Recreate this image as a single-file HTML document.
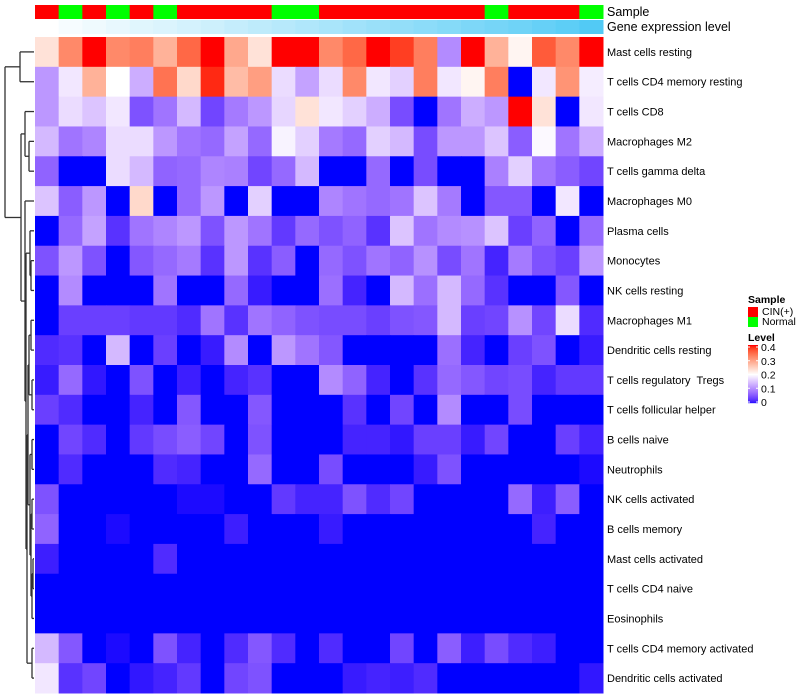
<!DOCTYPE html>
<html><head><meta charset="utf-8"><style>
body{margin:0;background:#fff;width:800px;height:700px;overflow:hidden;font-family:"Liberation Sans",sans-serif}
svg{display:block}
#rowlabels text{white-space:pre}
</style></head><body>
<svg id="chart" width="800" height="700" xmlns="http://www.w3.org/2000/svg">
<g id="dendro" stroke="#333" stroke-width="1.3" fill="none"></g>
<g id="cells"></g>
<g id="annot"></g>
<g id="rowlabels" font-size="11" fill="#000"></g>
<text x="607" y="16" font-size="12.5">Sample</text>
<text x="607" y="31" font-size="12.5">Gene expression level</text>
<g id="legend" font-size="10.5"></g>
</svg>
<script>
const rowNames=["Mast cells resting","T cells CD4 memory resting","T cells CD8","Macrophages M2","T cells gamma delta","Macrophages M0","Plasma cells","Monocytes","NK cells resting","Macrophages M1","Dendritic cells resting","T cells regulatory  Tregs","T cells follicular helper","B cells naive","Neutrophils","NK cells activated","B cells memory","Mast cells activated","T cells CD4 naive","Eosinophils","T cells CD4 memory activated","Dendritic cells activated"];
const sampleGroup=["C","N","C","N","C","N","C","C","C","C","N","N","C","C","C","C","C","C","C","N","C","C","C","N"];
const geneLevel=[0,0.05,0.09,0.13,0.17,0.2,0.24,0.28,0.32,0.36,0.4,0.44,0.48,0.52,0.56,0.6,0.64,0.68,0.72,0.76,0.8,0.85,0.9,0.96];
const r1=[0.23,0.32,0.4,0.32,0.33,0.28,0.35,0.4,0.29,0.23,0.4,0.4,0.32,0.35,0.4,0.38,0.33,0.1,0.4,0.28,0.21,0.36,0.32,0.4];
const r2=[0.11,0.18,0.28,0.2,0.13,0.34,0.24,0.39,0.27,0.3,0.17,0.12,0.17,0.32,0.18,0.16,0.33,0.18,0.21,0.33,0,0.18,0.31,0.185];
const r3=[0.11,0.17,0.15,0.18,0.05,0.08,0.14,0.04,0.085,0.11,0.165,0.23,0.18,0.16,0.13,0.045,0,0.08,0.13,0.11,0.4,0.23,0,0.18];
const r4=[0.14,0.08,0.095,0.17,0.17,0.11,0.08,0.07,0.12,0.07,0.19,0.16,0.085,0.07,0.16,0.14,0.045,0.11,0.11,0.15,0.06,0.195,0.08,0.13];
const r5=[0.065,0,0,0.17,0.14,0.065,0.07,0.095,0.09,0.04,0.07,0.14,0,0,0.07,0,0.045,0,0,0.09,0.16,0.08,0.06,0.04];
const r6=[0.15,0.06,0.11,0,0.24,0,0.07,0.11,0,0.16,0,0,0.095,0.08,0.07,0.08,0.15,0.085,0,0.055,0.055,0,0.18,0];
const r7=[0,0.07,0.12,0.025,0.08,0.095,0.11,0.05,0.11,0.08,0.03,0.07,0.05,0.065,0.025,0.15,0.08,0.1,0.105,0.15,0.035,0.065,0,0.07];
const r8=[0.05,0.11,0.05,0,0.055,0.07,0.085,0.025,0.11,0.025,0.06,0,0.07,0.05,0.08,0.065,0.105,0.045,0.08,0.015,0.085,0.05,0.035,0.11];
const r9=[0,0.1,0,0,0,0.08,0,0,0.07,0.01,0,0,0.075,0.015,0,0.14,0.075,0.14,0.07,0.025,0,0,0.055,0];
const r10=[0,0.035,0.035,0.035,0.03,0.03,0.02,0.08,0.025,0.08,0.065,0.05,0.045,0.045,0.035,0.05,0.055,0.14,0.035,0.04,0.105,0.04,0.17,0.02];
const r11=[0.02,0.025,0,0.14,0,0.035,0,0.01,0.1,0,0.11,0.08,0.055,0,0,0,0,0.075,0.015,0,0.035,0.05,0,0.01];
const r12=[0.01,0.07,0.008,0,0.05,0,0.012,0,0.015,0.025,0,0,0.1,0.065,0.015,0,0.025,0.07,0.055,0.04,0.045,0.015,0.03,0.03];
const r13=[0.035,0.02,0,0,0.015,0,0.055,0,0,0.055,0,0,0,0.025,0,0.04,0,0.1,0,0,0.045,0,0,0];
const r14=[0,0.04,0.02,0,0.03,0.045,0.06,0.04,0,0.05,0,0,0,0.015,0.015,0.008,0.035,0.035,0.01,0.04,0,0,0.035,0.015];
const r15=[0,0.02,0,0,0,0.02,0.015,0,0,0.07,0,0,0.045,0,0,0,0.01,0.05,0,0,0,0,0,0.003];
const r16=[0.05,0,0,0,0,0,0.003,0.003,0,0,0.03,0.015,0.015,0.05,0.02,0.04,0,0,0,0,0.07,0.012,0.06,0];
const r17=[0.065,0,0,0.003,0,0,0,0,0.012,0,0,0,0.01,0,0,0,0,0,0,0,0,0.015,0,0];
const r18=[0.012,0,0,0,0,0.02,0,0,0,0,0,0,0,0,0,0,0,0,0,0,0,0,0,0];
const r19=[0,0,0,0,0,0,0,0,0,0,0,0,0,0,0,0,0,0,0,0,0,0,0,0];
const r20=[0,0,0,0,0,0,0,0,0,0,0,0,0,0,0,0,0,0,0,0,0,0,0,0];
const r21=[0.14,0.055,0,0.003,0,0.05,0.015,0,0.02,0.055,0.02,0,0.02,0,0,0.04,0,0.06,0.012,0.045,0.02,0.012,0,0];
const r22=[0.18,0.025,0.04,0,0.008,0.015,0.03,0,0.04,0.05,0,0,0,0.01,0.015,0.012,0.02,0,0,0,0,0,0,0.008];
const values=[r1,r2,r3,r4,r5,r6,r7,r8,r9,r10,r11,r12,r13,r14,r15,r16,r17,r18,r19,r20,r21,r22];
const legendTicks=[0,0.1,0.2,0.3,0.4];

const NS="http://www.w3.org/2000/svg";
const X0=35,X1=603,Y0=37,Y1=693;
const nC=24,nR=22,cw=(X1-X0)/nC,rh=(Y1-Y0)/nR;
const xPos=c=>X0+c*cw, yPos=r=>Y0+r*rh;

function toLin(c){c/=255;return c<=0.04045?c/12.92:Math.pow((c+0.055)/1.055,2.4);}
function fromLin(c){c=c<=0.0031308?12.92*c:1.055*Math.pow(c,1/2.4)-0.055;return Math.max(0,Math.min(255,Math.round(c*255)));}
function rgb2lab(rgb){const[r,g,b]=rgb.map(toLin);
 let x=(0.4124*r+0.3576*g+0.1805*b)/0.95047,y=(0.2126*r+0.7152*g+0.0722*b),z=(0.0193*r+0.1192*g+0.9505*b)/1.08883;
 const f=t=>t>0.008856?Math.cbrt(t):7.787*t+16/116;const fx=f(x),fy=f(y),fz=f(z);
 return[116*fy-16,500*(fx-fy),200*(fy-fz)];}
function lab2rgb(l){const fy=(l[0]+16)/116,fx=fy+l[1]/500,fz=fy-l[2]/200;
 const g=t=>t*t*t>0.008856?t*t*t:(t-16/116)/7.787;
 const x=g(fx)*0.95047,y=g(fy),z=g(fz)*1.08883;
 const r=3.2406*x-1.5372*y-0.4986*z,gg=-0.9689*x+1.8758*y+0.0415*z,b=0.0557*x-0.2040*y+1.0570*z;
 return[fromLin(r),fromLin(gg),fromLin(b)];}
const LB=rgb2lab([0,0,255]),LW=rgb2lab([255,255,255]),LR=rgb2lab([255,0,0]);
function colorOf(v){v=Math.max(0,Math.min(0.4,v));let a,b,t;
 if(v<=0.2){a=LB;b=LW;t=v/0.2;}else{a=LW;b=LR;t=(v-0.2)/0.2;}
 const c=lab2rgb([0,1,2].map(i=>a[i]+(b[i]-a[i])*t));return`rgb(${c[0]},${c[1]},${c[2]})`;}

const cells=document.getElementById('cells');
values.forEach((row,r)=>row.forEach((v,c)=>{
 const el=document.createElementNS(NS,'rect');
 el.setAttribute('x',xPos(c));el.setAttribute('y',yPos(r));
 el.setAttribute('width',cw+0.5);el.setAttribute('height',rh+0.5);
 el.setAttribute('fill',colorOf(v));
 
 
 cells.appendChild(el);}));

const annot=document.getElementById('annot');
sampleGroup.forEach((g,c)=>{
 const el=document.createElementNS(NS,'rect');
 el.setAttribute('x',xPos(c));el.setAttribute('y',5);el.setAttribute('width',cw+0.5);el.setAttribute('height',14);
 el.setAttribute('fill',g==='C'?'#ff0000':'#00ff00');
 
 
 annot.appendChild(el);});
geneLevel.forEach((g,c)=>{
 const el=document.createElementNS(NS,'rect');
 const R=Math.round(255+(75-255)*g),G=Math.round(255+(200-255)*g),B=Math.round(255+(245-255)*g);
 el.setAttribute('x',xPos(c));el.setAttribute('y',20);el.setAttribute('width',cw+0.5);el.setAttribute('height',14);
 el.setAttribute('fill',`rgb(${R},${G},${B})`);
 
 
 annot.appendChild(el);});

const rl=document.getElementById('rowlabels');
rowNames.forEach((n,r)=>{
 const t=document.createElementNS(NS,'text');
 t.setAttribute('x',607);t.setAttribute('y',yPos(r)+rh/2+4);t.textContent=n;
 
 
 rl.appendChild(t);});

const cy=r=>yPos(r)+rh/2;
const dg=document.getElementById('dendro');
function seg(x1,y1,x2,y2){const l=document.createElementNS(NS,'line');
 l.setAttribute('x1',x1);l.setAttribute('y1',y1);l.setAttribute('x2',x2);l.setAttribute('y2',y2);
 
 
 dg.appendChild(l);}
function join(x,ya,xa,yb,xb){seg(x,ya,xa,ya);seg(x,yb,xb,yb);seg(x,ya,x,yb);return[x,(ya+yb)/2];}
const L=34;
const A=join(20,cy(0),L,cy(1),L);
const n34=join(29,cy(3),L,cy(4),L);
const n234=join(25,cy(2),L,n34[1],29);
const n78=join(31,cy(7),L,cy(8),L);
const n678=join(30,cy(6),L,n78[1],31);
const n910=join(31,cy(9),L,cy(10),L);
const n1112=join(32,cy(11),L,cy(12),L);
const nA=join(29,n910[1],31,n1112[1],32);
const n1314=join(32,cy(13),L,cy(14),L);
const n1516=join(32,cy(15),L,cy(16),L);
const n1718=join(33,cy(17),L,cy(18),L);
const n171819=join(32,n1718[1],33,cy(19),L);
const nB=join(31,n1516[1],32,n171819[1],32);
const nC2=join(30,n1314[1],32,nB[1],31);
const nD=join(28,nA[1],29,nC2[1],30);
const n2021=join(32,cy(20),L,cy(21),L);
const nE=join(27,nD[1],28,n2021[1],32);
const nF=join(26,n678[1],30,nE[1],27);
const nG=join(25,cy(5),L,nF[1],26);
const nH=join(21,n234[1],25,nG[1],25);
join(5,A[1],20,nH[1],21);

const lg=document.getElementById('legend');
function addText(x,y,s,bold,name){const t=document.createElementNS(NS,'text');t.setAttribute('x',x);t.setAttribute('y',y);
 if(bold)t.setAttribute('font-weight','bold');t.textContent=s;
 
 
 lg.appendChild(t);}
addText(748,303,'Sample',true,'sample-legend-title');
[['#ff0000','CIN(+)'],['#00ff00','Normal']].forEach((e,i)=>{
 const r=document.createElementNS(NS,'rect');r.setAttribute('x',748);r.setAttribute('y',307+i*10);r.setAttribute('width',10);r.setAttribute('height',10);r.setAttribute('fill',e[0]);
 
 
 lg.appendChild(r);
 addText(762,315+i*10,e[1],false,'sample-legend-entry');});
addText(748,341,'Level',true,'level-legend-title');
const gTop=345,gBot=403;
for(let i=0;i<58;i++){const v=0.4*(1-i/58);const r=document.createElementNS(NS,'rect');
 r.setAttribute('x',748);r.setAttribute('y',gTop+i);r.setAttribute('width',10);r.setAttribute('height',1.2);r.setAttribute('fill',colorOf(v));
 
 
 lg.appendChild(r);}
legendTicks.forEach(v=>{const y=gBot-(v/0.4)*(gBot-gTop-3)-1;
 const w1=document.createElementNS(NS,'line');w1.setAttribute('x1',748);w1.setAttribute('x2',750);w1.setAttribute('y1',y);w1.setAttribute('y2',y);w1.setAttribute('stroke','#fff');
 
 
 lg.appendChild(w1);
 const w2=document.createElementNS(NS,'line');w2.setAttribute('x1',756);w2.setAttribute('x2',758);w2.setAttribute('y1',y);w2.setAttribute('y2',y);w2.setAttribute('stroke','#fff');
 
 
 lg.appendChild(w2);
 addText(761,y+4,String(v),false,'level-legend-label');});
</script>
</body></html>
